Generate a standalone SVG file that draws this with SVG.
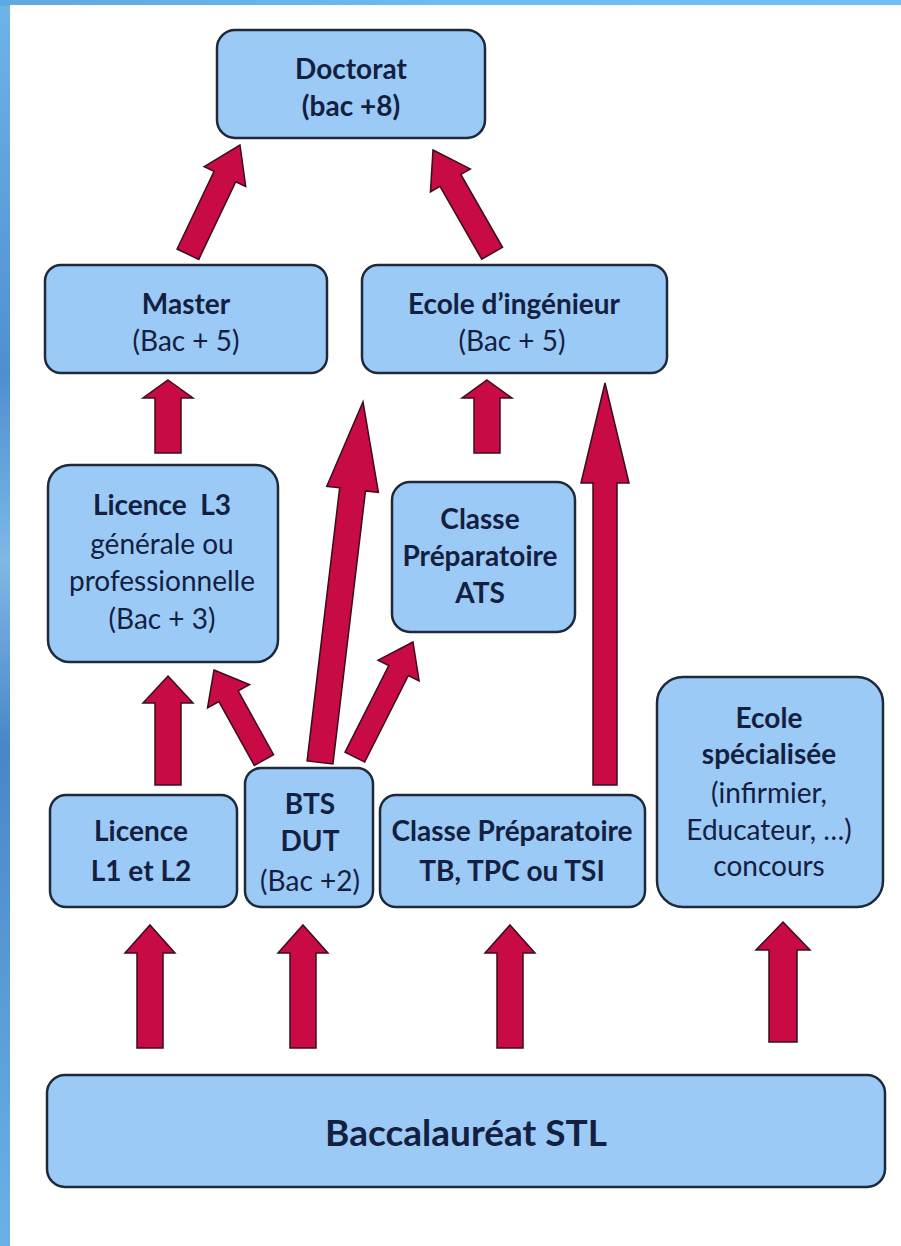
<svg xmlns="http://www.w3.org/2000/svg" width="901" height="1246" viewBox="0 0 901 1246">
<defs>
<linearGradient id="leftBorder" x1="0" y1="0" x2="0" y2="1">
<stop offset="0" stop-color="#6fb4e8"/>
<stop offset="0.3" stop-color="#4f8fcf"/>
<stop offset="0.45" stop-color="#7db8e6"/>
<stop offset="0.6" stop-color="#4a86c6"/>
<stop offset="1" stop-color="#6ab2e6"/>
</linearGradient>
<linearGradient id="topBorder" x1="0" y1="0" x2="1" y2="0">
<stop offset="0" stop-color="#5fa8e0"/>
<stop offset="0.5" stop-color="#6cbdf0"/>
<stop offset="1" stop-color="#6ec0f2"/>
</linearGradient>
<style>
.box{fill:#9bcaf6;stroke:#1e2a3a;stroke-width:2.5}
.t{font-family:Lato,"Open Sans","Liberation Sans",sans-serif;font-size:28px;fill:#14203f;text-anchor:middle;dominant-baseline:central}
.b{font-weight:700}
.big{font-size:37px;font-weight:700}
.arr{fill:#c80a45;stroke:#3a0c1c;stroke-width:1.5;stroke-linejoin:miter}
</style>
</defs>
<rect x="0" y="0" width="901" height="1246" fill="url(#leftBorder)"/>
<rect x="0" y="0" width="901" height="6" fill="url(#topBorder)"/>
<rect x="10" y="5" width="891" height="1241" fill="#ffffff"/>

<g id="connectors">
<!-- Master -> Doctorat -->
<polygon class="arr" transform="translate(240,145) rotate(25.5)" points="0,0 23,35 12,35 12,121 -12,121 -12,35 -23,35"/>
<!-- Ecole ingenieur -> Doctorat -->
<polygon class="arr" transform="translate(433,150) rotate(-29.8)" points="0,0 23,35 12,35 12,119 -12,119 -12,35 -23,35"/>
<!-- Licence L3 -> Master -->
<polygon class="arr" transform="translate(168,380)" points="0,0 25,18 13,18 13,73 -13,73 -13,18 -25,18"/>
<!-- ATS -> Ecole ingenieur -->
<polygon class="arr" transform="translate(487,380)" points="0,0 25,18 13,18 13,73 -13,73 -13,18 -25,18"/>
<!-- BTS -> Ecole ingenieur -->
<polygon class="arr" transform="translate(363,402) rotate(6.8)" points="0,0 26,88 13,88 13,363 -13,363 -13,88 -26,88"/>
<!-- Classe TB -> Ecole ingenieur -->
<polygon class="arr" transform="translate(605,383)" points="0,0 24,100 12,100 12,402 -12,402 -12,100 -24,100"/>
<!-- Licence L1 -> Licence L3 -->
<polygon class="arr" transform="translate(168,676)" points="0,0 25,27 13,27 13,109 -13,109 -13,27 -25,27"/>
<!-- BTS -> Licence L3 -->
<polygon class="arr" transform="translate(214,670) rotate(-29)" points="0,0 24,30 11,30 11,103 -11,103 -11,30 -24,30"/>
<!-- BTS -> ATS -->
<polygon class="arr" transform="translate(413,642) rotate(26.8)" points="0,0 23,32 11,32 11,129 -11,129 -11,32 -23,32"/>
<!-- Bac -> Licence L1 -->
<polygon class="arr" transform="translate(150,925)" points="0,0 25,28 13,28 13,123 -13,123 -13,28 -25,28"/>
<!-- Bac -> BTS -->
<polygon class="arr" transform="translate(303,925)" points="0,0 25,28 13,28 13,123 -13,123 -13,28 -25,28"/>
<!-- Bac -> Classe TB -->
<polygon class="arr" transform="translate(510,925)" points="0,0 25,28 13,28 13,123 -13,123 -13,28 -25,28"/>
<!-- Bac -> Ecole specialisee -->
<polygon class="arr" transform="translate(783,922)" points="0,0 27,28 14,28 14,120 -14,120 -14,28 -27,28"/>
</g>

<g id="doctorat">
<rect class="box" x="217" y="30" width="268" height="108" rx="18"/>
<text class="t b" x="351" y="68">Doctorat</text>
<text class="t b" x="351" y="105">(bac +8)</text>
</g>

<g id="master">
<rect class="box" x="45" y="265" width="282" height="108" rx="16"/>
<text class="t b" x="186" y="303">Master</text>
<text class="t" x="186" y="340">(Bac + 5)</text>
</g>

<g id="ecole-ingenieur">
<rect class="box" x="362" y="265" width="305" height="108" rx="16"/>
<text class="t b" x="514" y="303">Ecole d’ingénieur</text>
<text class="t" x="512" y="340">(Bac + 5)</text>
</g>

<g id="licence-l3">
<rect class="box" x="48" y="465" width="230" height="197" rx="22"/>
<text class="t b" x="162" y="504" xml:space="preserve">Licence  L3</text>
<text class="t" x="162" y="543">générale ou</text>
<text class="t" x="162" y="580">professionnelle</text>
<text class="t" x="162" y="618">(Bac + 3)</text>
</g>

<g id="classe-ats">
<rect class="box" x="392" y="482" width="183" height="150" rx="18"/>
<text class="t b" x="480" y="518">Classe</text>
<text class="t b" x="480" y="555">Préparatoire</text>
<text class="t b" x="480" y="592">ATS</text>
</g>

<g id="licence-l1-l2">
<rect class="box" x="50" y="795" width="187" height="112" rx="16"/>
<text class="t b" x="141" y="830">Licence</text>
<text class="t b" x="141" y="870">L1 et L2</text>
</g>

<g id="bts-dut">
<rect class="box" x="245" y="768" width="128" height="139" rx="16"/>
<text class="t b" x="310" y="803">BTS</text>
<text class="t b" x="310" y="840">DUT</text>
<text class="t" x="310" y="880">(Bac +2)</text>
</g>

<g id="classe-tb">
<rect class="box" x="380" y="795" width="265" height="112" rx="16"/>
<text class="t b" x="512" y="830">Classe Préparatoire</text>
<text class="t b" x="512" y="870">TB, TPC ou TSI</text>
</g>

<g id="ecole-specialisee">
<rect class="box" x="657" y="677" width="226" height="230" rx="26"/>
<text class="t b" x="769" y="717">Ecole</text>
<text class="t b" x="769" y="753">spécialisée</text>
<text class="t" x="769" y="792">(infirmier,</text>
<text class="t" x="769" y="829">Educateur, …)</text>
<text class="t" x="769" y="865">concours</text>
</g>

<g id="baccalaureat">
<rect class="box" x="47" y="1075" width="838" height="112" rx="18"/>
<text class="t big" x="466" y="1131">Baccalauréat STL</text>
</g>
</svg>
